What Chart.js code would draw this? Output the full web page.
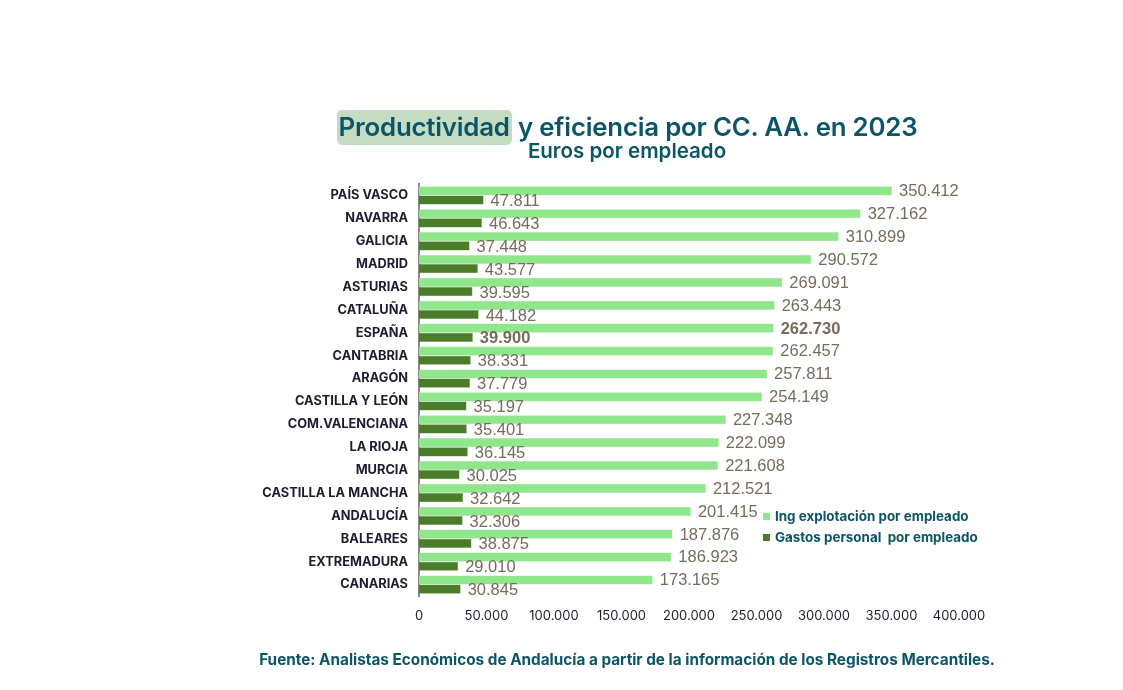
<!DOCTYPE html>
<html><head><meta charset="utf-8">
<script src="https://cdn.jsdelivr.net/npm/chart.js@4"></script>
<style>
html,body{margin:0;padding:0;background:#fff;}
#wrap{position:relative;width:1123px;height:690px;overflow:hidden;}
canvas{position:absolute;left:0;top:0;}
.t{position:absolute;font-family:Inter,"Noto Sans",sans-serif;color:#0c5566;white-space:nowrap;left:0;width:1254px;text-align:center;}
#title{top:110px;font-size:25.8px;font-weight:600;letter-spacing:-0.2px;line-height:34px;}
#title span.hl{background:#c3dcc3;border-radius:5px;padding:1px 2px 3px 2px;}
#sub{top:138px;font-size:20.5px;font-weight:600;}
#src{top:650px;font-size:15.3px;font-weight:700;}
.lg{position:absolute;left:763px;font-family:Inter,"Noto Sans",sans-serif;font-size:13.4px;font-weight:700;color:#0c5566;}
.lg i{display:inline-block;width:7px;height:7px;margin-right:5px;vertical-align:1px;}
</style></head>
<body><div id="wrap">
<canvas id="c" width="1123" height="690"></canvas>
<div class="t" id="title"><span class="hl">Productividad</span> y eficiencia por CC. AA. en 2023</div>
<div class="t" id="sub">Euros por empleado</div>
<div class="lg" style="top:508px"><i style="background:#90e68b"></i>Ing explotación por empleado</div>
<div class="lg" style="top:529px"><i style="background:#4b7c2a"></i>Gastos personal&nbsp; por empleado</div>
<div class="t" id="src">Fuente: Analistas Económicos de Andalucía a partir de la información de los Registros Mercantiles.</div>
</div>
<script>
const categories = ["PAÍS VASCO","NAVARRA","GALICIA","MADRID","ASTURIAS","CATALUÑA","ESPAÑA","CANTABRIA","ARAGÓN","CASTILLA Y LEÓN","COM.VALENCIANA","LA RIOJA","MURCIA","CASTILLA LA MANCHA","ANDALUCÍA","BALEARES","EXTREMADURA","CANARIAS"];
const ingresos = [350412,327162,310899,290572,269091,263443,262730,262457,257811,254149,227348,222099,221608,212521,201415,187876,186923,173165];
const gastos = [47811,46643,37448,43577,39595,44182,39900,38331,37779,35197,35401,36145,30025,32642,32306,38875,29010,30845];
const seriesNames = ["Ing explotación por empleado","Gastos personal  por empleado"];
const xTicks = [0,50000,100000,150000,200000,250000,300000,350000,400000];
const boldCategory = "ESPAÑA";

const fmt = v => String(v).replace(/\B(?=(\d{3})+(?!\d))/g, ".");

const labelPlugin = {
  id:'vals',
  afterDatasetsDraw(chart){
    const ctx = chart.ctx;
    ctx.save();
    ctx.fillStyle = '#776b5d';
    ctx.textBaseline = 'middle';
    ctx.textAlign = 'left';
    chart.data.datasets.forEach((ds,di)=>{
      const meta = chart.getDatasetMeta(di);
      meta.data.forEach((bar,i)=>{
        const bold = categories[i]===boldCategory;
        ctx.font = (bold?'bold ':'') + '16.5px "Liberation Sans", Arial, sans-serif';
        const dy = di===1 ? 1.5 : 0.8;
        ctx.fillText(fmt(ds.data[i]), bar.x + 7, bar.y + dy);
      });
    });
    ctx.restore();
  }
};

new Chart(document.getElementById('c'), {
  type:'bar',
  data:{
    labels: categories,
    datasets:[
      {label:seriesNames[0], data:ingresos, backgroundColor:'#90e68b', borderColor:'#a6eca2', borderWidth:0.5, categoryPercentage:0.8, barPercentage:1.0},
      {label:seriesNames[1], data:gastos, backgroundColor:'#4b7c2a', borderColor:'#6a9350', borderWidth:0.5, categoryPercentage:0.8, barPercentage:1.0}
    ]
  },
  options:{
    indexAxis:'y',
    responsive:false,
    animation:false,
    layout:{padding:{left:0,right:164,top:184,bottom:64}},
    plugins:{legend:{display:false},tooltip:{enabled:false}},
    scales:{
      x:{
        min:0,max:400000,
        afterBuildTicks(s){s.ticks = xTicks.map(v=>({value:v}));},
        afterFit(s){s.height=30;},
        grid:{display:false,drawTicks:false},
        border:{display:false},
        ticks:{padding:12,color:'#1d1d2e',font:{family:'Inter',size:13},callback:v=>fmt(v)}
      },
      y:{
        afterFit(s){s.width=419;},
        grid:{display:false,drawTicks:false},
        border:{display:true,color:'#8a8a8a',width:2},
        ticks:{padding:11,color:'#1d1d2e',font:{family:'Inter',size:12.8,weight:'bold'}}
      }
    }
  },
  plugins:[labelPlugin]
});
</script>
</body></html>
